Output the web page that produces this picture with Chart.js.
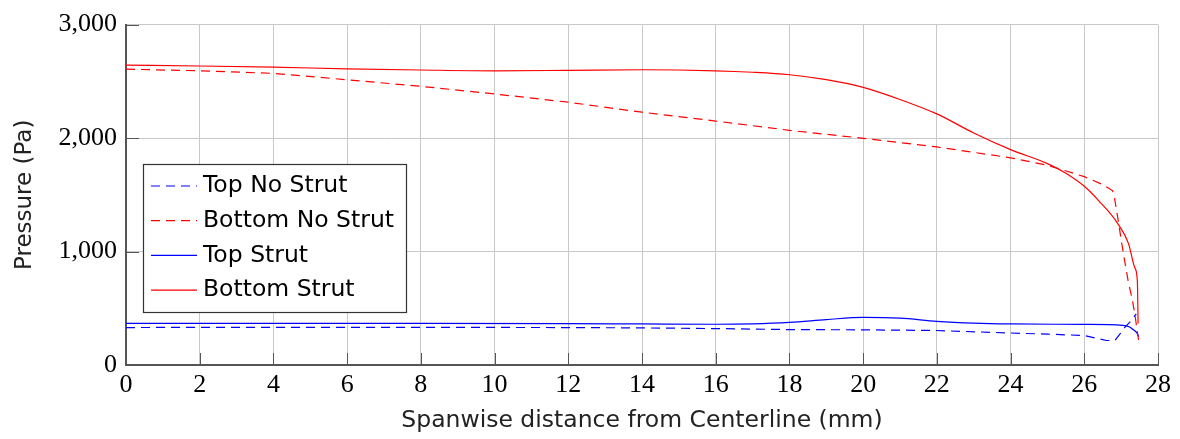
<html>
<head>
<meta charset="utf-8">
<script src="https://cdn.jsdelivr.net/npm/chart.js@4.4.0/dist/chart.umd.min.js"></script>
</head>
<body style="margin:0;background:#fff">
<canvas id="chart" width="1180" height="439"></canvas>
<script>
// spanwise distance (mm) and pressure (Pa)
var topNoStrutX = [0, 2, 4, 8, 12, 14, 16, 18, 20, 22, 24, 25, 26, 26.6, 26.83, 26.97, 27.1, 27.23, 27.41];
var topNoStrutY = [330, 332, 332, 332, 330, 327, 321, 312, 310, 304, 282, 272, 260, 216, 216, 274, 332, 376, 450];

var bottomNoStrutX = [0, 2, 4, 6, 8, 10, 12, 14, 16, 18, 20, 22, 24, 25, 26, 26.5, 26.77, 26.82, 26.91, 27.05, 27.19, 27.3, 27.37, 27.48];
var bottomNoStrutY = [2607, 2593, 2570, 2514, 2456, 2389, 2316, 2228, 2150, 2068, 1998, 1922, 1826, 1760, 1660, 1590, 1535, 1470, 1295, 1003, 741, 580, 452, 200];

var topStrutX = [0, 4, 8, 12, 14, 16, 17, 18, 19, 20, 21, 22, 23, 24, 26, 27.05, 27.23, 27.3, 27.41, 27.48];
var topStrutY = [367, 367, 367, 365, 362, 359, 363, 376, 400, 420, 413, 385, 369, 362, 358, 350, 335, 318, 289, 250];

var bottomStrutX = [0, 2, 4, 6, 8, 10, 12, 14, 16, 17, 18, 19, 20, 21, 22, 23, 24, 25, 25.5, 26, 26.4, 26.9, 27.2, 27.37, 27.44, 27.46];
var bottomStrutY = [2642, 2635, 2625, 2610, 2600, 2593, 2597, 2602, 2593, 2580, 2558, 2515, 2447, 2340, 2213, 2045, 1898, 1775, 1690, 1575, 1445, 1251, 1070, 857, 741, 365];

var seriesNames = ['Top No Strut', 'Bottom No Strut', 'Top Strut', 'Bottom Strut'];
var xTicks = [0, 2, 4, 6, 8, 10, 12, 14, 16, 18, 20, 22, 24, 26, 28];
var yTicks = [0, 1000, 2000, 3000];

function pts(xs, ys) {
  var out = [];
  for (var i = 0; i < xs.length; i++) out.push({x: xs[i], y: ys[i]});
  return out;
}

var dash = [9, 6];

// small tick marks pointing into the plot, like pgfplots
var innerTicks = {
  id: 'innerTicks',
  beforeDatasetsDraw: function(chart) {
    var ctx = chart.ctx, a = chart.chartArea;
    var xs = chart.scales.x, ys = chart.scales.y;
    ctx.save();
    ctx.strokeStyle = '#555';
    ctx.lineWidth = 1;
    xTicks.forEach(function(v) {
      var px = Math.round(xs.getPixelForValue(v)) + 0.5;
      ctx.beginPath(); ctx.moveTo(px, a.bottom); ctx.lineTo(px, a.bottom - 12); ctx.stroke();
    });
    yTicks.forEach(function(v) {
      var py = Math.round(ys.getPixelForValue(v)) + 0.5;
      ctx.beginPath(); ctx.moveTo(a.left, py); ctx.lineTo(a.left + 13, py); ctx.stroke();
    });
    ctx.restore();
  }
};

// boxed legend sitting inside the plot area
var boxLegend = {
  id: 'boxLegend',
  afterDraw: function(chart) {
    var ctx = chart.ctx;
    ctx.save();
    ctx.fillStyle = '#fff';
    ctx.fillRect(143.5, 164.5, 263, 148);
    ctx.strokeStyle = '#333';
    ctx.lineWidth = 1.2;
    ctx.strokeRect(143.5, 164.5, 263, 148);
    chart.data.datasets.forEach(function(ds, i) {
      var y = 186 + i * 34.7;
      ctx.strokeStyle = ds.borderColor;
      ctx.lineWidth = ds.borderWidth;
      ctx.setLineDash(ds.borderDash || []);
      ctx.beginPath(); ctx.moveTo(151, y); ctx.lineTo(197, y); ctx.stroke();
      ctx.setLineDash([]);
      ctx.fillStyle = '#000';
      ctx.font = '23.5px "DejaVu Sans"';
      ctx.textBaseline = 'middle';
      ctx.fillText(ds.label, 203, y);
    });
    ctx.restore();
  }
};

new Chart(document.getElementById('chart'), {
  type: 'line',
  data: {
    datasets: [
      {label: seriesNames[0], data: pts(topNoStrutX, topNoStrutY), borderColor: '#0000ff', borderDash: dash, borderWidth: 1.2, tension: 0},
      {label: seriesNames[1], data: pts(bottomNoStrutX, bottomNoStrutY), borderColor: '#ff0000', borderDash: dash, borderWidth: 1.2, tension: 0},
      {label: seriesNames[2], data: pts(topStrutX, topStrutY), borderColor: '#0000ff', borderWidth: 1.2, cubicInterpolationMode: 'monotone'},
      {label: seriesNames[3], data: pts(bottomStrutX, bottomStrutY), borderColor: '#ff0000', borderWidth: 1.2, cubicInterpolationMode: 'monotone'}
    ]
  },
  options: {
    responsive: false,
    animation: false,
    devicePixelRatio: 1,
    elements: {point: {radius: 0}},
    layout: {padding: {left: 0, right: 22, top: 22, bottom: 0}},
    plugins: {legend: {display: false}, tooltip: {enabled: false}},
    scales: {
      x: {
        type: 'linear',
        min: 0, max: 28,
        afterBuildTicks: function(s) { s.ticks = xTicks.map(function(v) { return {value: v}; }); },
        afterFit: function(s) { s.height = 74; },
        grid: {color: '#c8c8c8', lineWidth: 1, drawTicks: false},
        border: {color: '#555', width: 2},
        ticks: {color: '#000', padding: 5, maxRotation: 0, font: {family: '"Liberation Serif"', size: 26}},
        title: {display: true, text: 'Spanwise distance from Centerline (mm)', color: '#222',
                font: {family: '"DejaVu Sans"', size: 23.5, lineHeight: 1.2}, padding: {top: 0, bottom: 4}}
      },
      y: {
        type: 'linear',
        min: 0, max: 3000,
        afterBuildTicks: function(s) { s.ticks = yTicks.map(function(v) { return {value: v}; }); },
        afterFit: function(s) { s.width = 126; },
        grid: {color: '#c8c8c8', lineWidth: 1, drawTicks: false},
        border: {color: '#555', width: 2},
        ticks: {color: '#000', padding: 9, font: {family: '"Liberation Serif"', size: 26},
                callback: function(v) { return v.toLocaleString('en-US'); }},
        title: {display: true, text: 'Pressure (Pa)', color: '#222',
                font: {family: '"DejaVu Sans"', size: 23, lineHeight: 1.2}, padding: {top: 11, bottom: 0}}
      }
    }
  },
  plugins: [innerTicks, boxLegend]
});
</script>
</body>
</html>
